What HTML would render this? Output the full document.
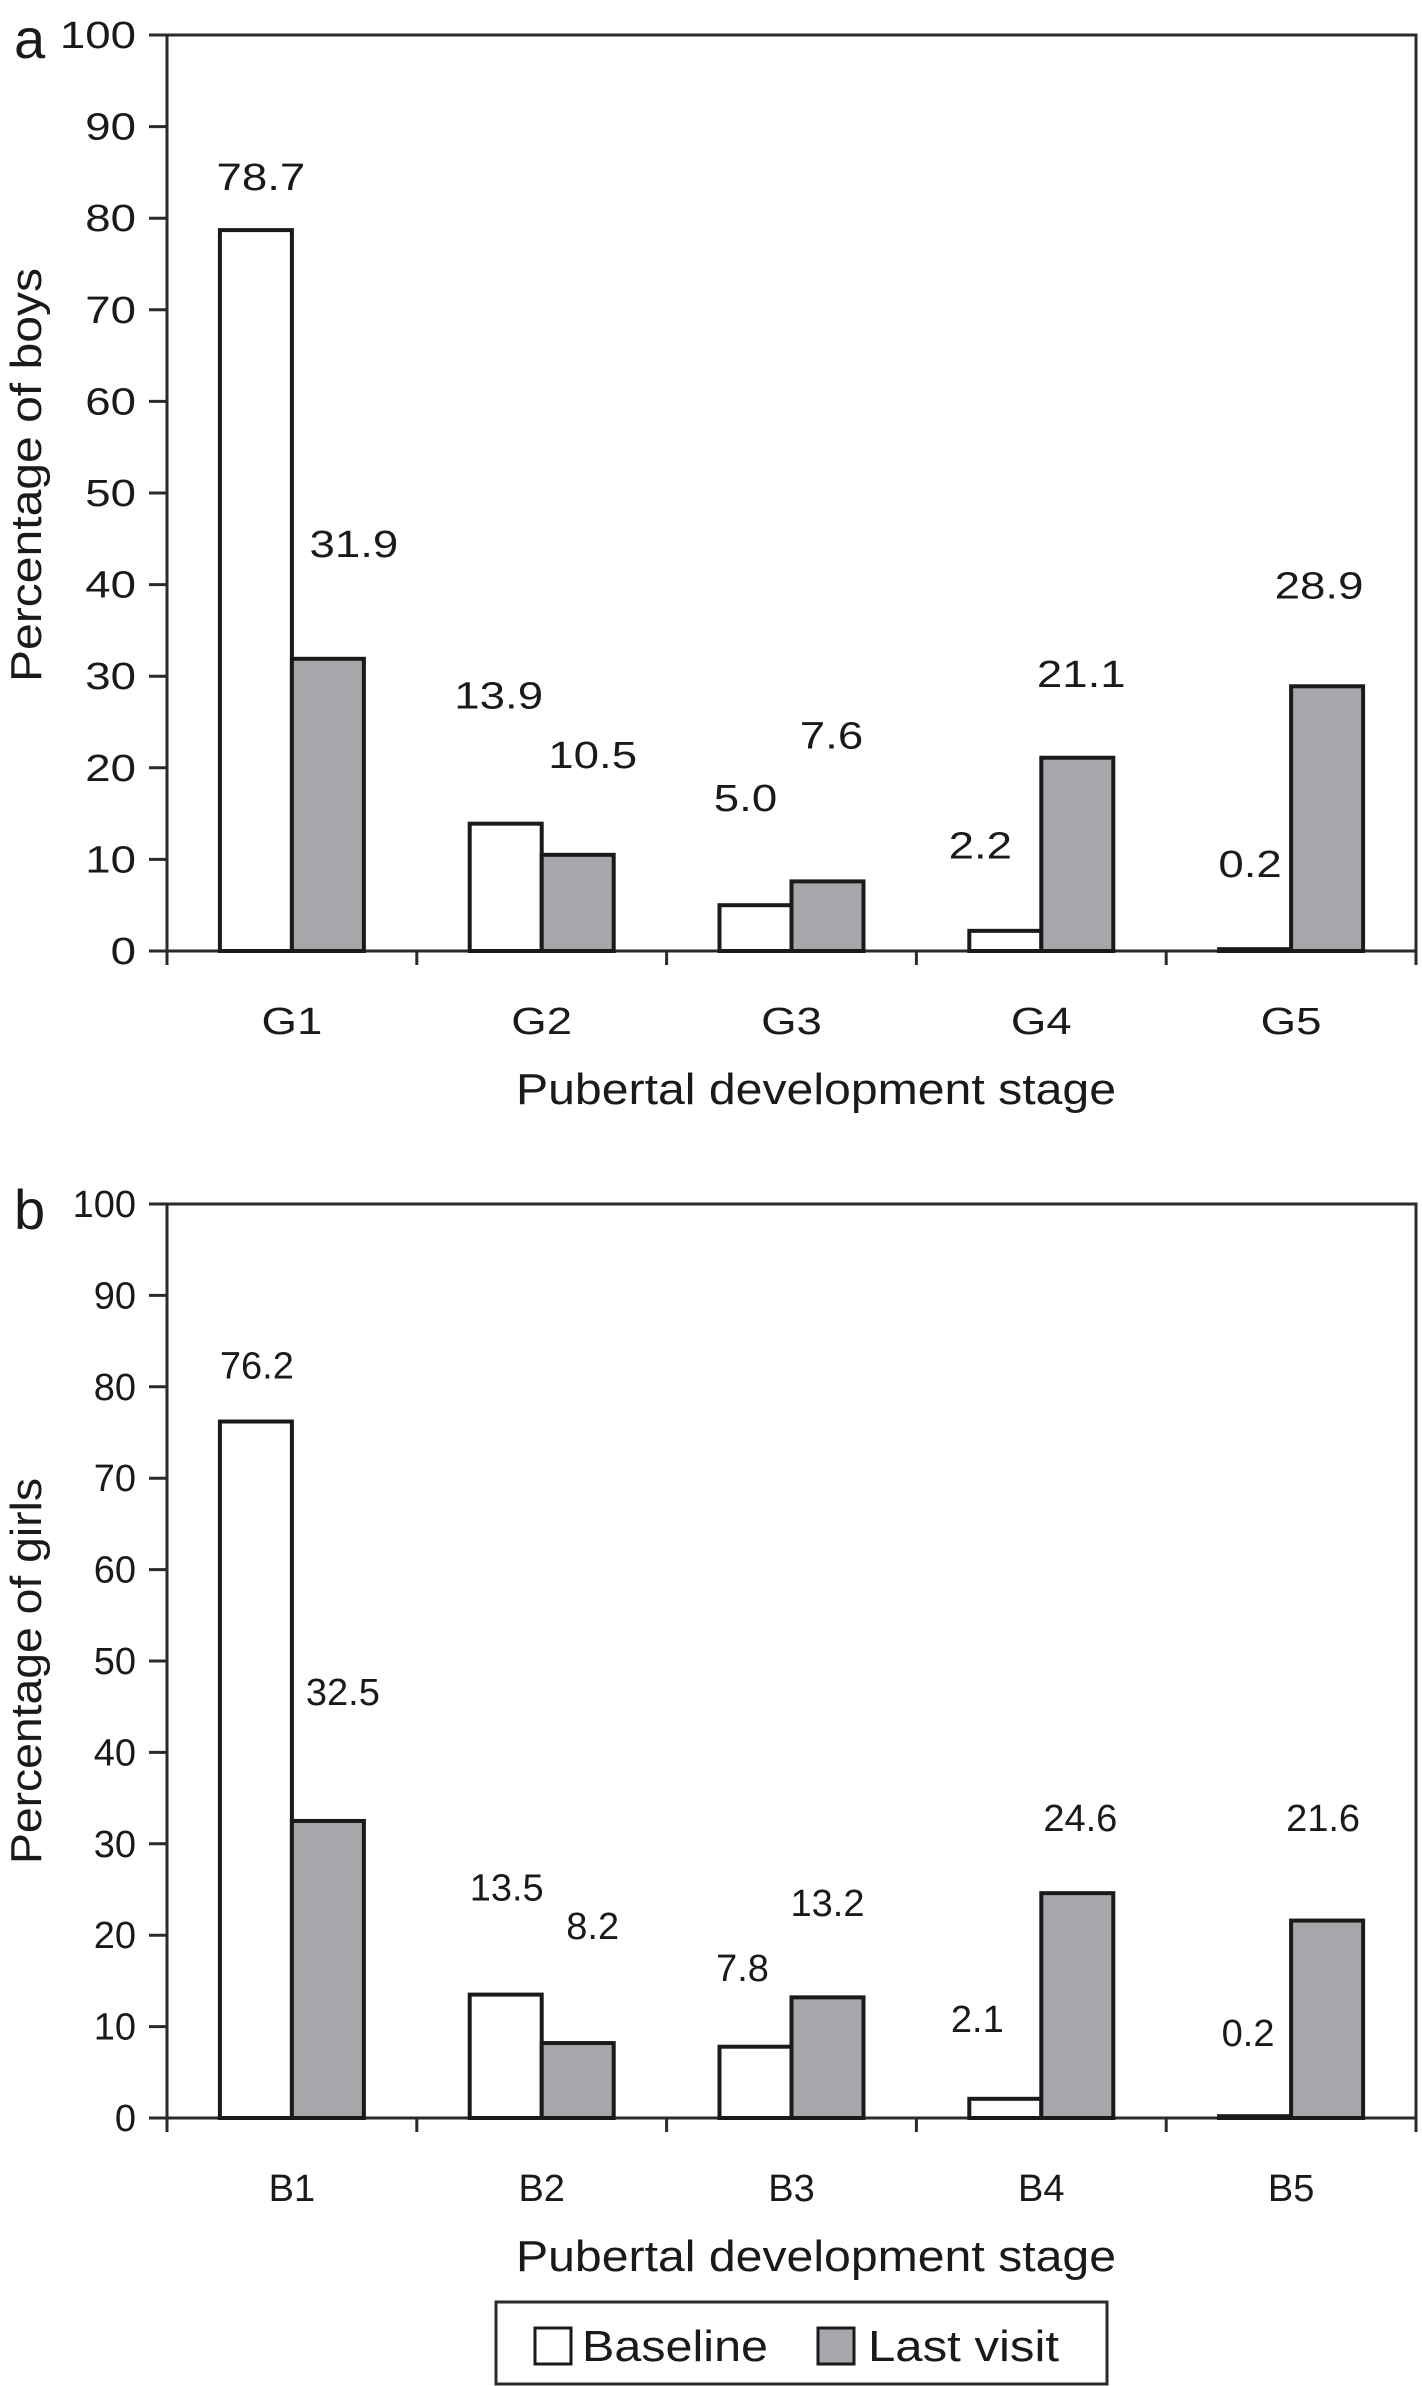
<!DOCTYPE html>
<html><head><meta charset="utf-8"><style>
html,body{margin:0;padding:0;background:#fff;}
svg{display:block;}
text{font-family:"Liberation Sans",sans-serif;fill:#1a1a1a;}
</style></head><body>
<svg id="fig" width="1422" height="2386" viewBox="0 0 1422 2386" xmlns="http://www.w3.org/2000/svg"></svg>
<script>
const categoriesA = ["G1","G2","G3","G4","G5"];
const baselineA = [78.7, 13.9, 5.0, 2.2, 0.2];
const lastVisitA = [31.9, 10.5, 7.6, 21.1, 28.9];
const baseLabelPosA = [83.1, 26.5, 15.3, 10.1, 8.1];
const lastLabelPosA = [43.0, 20.0, 22.1, 28.8, 38.5];

const categoriesB = ["B1","B2","B3","B4","B5"];
const baselineB = [76.2, 13.5, 7.8, 2.1, 0.2];
const lastVisitB = [32.5, 8.2, 13.2, 24.6, 21.6];
const baseLabelPosB = [80.9, 23.8, 15.0, 9.4, 7.9];
const lastLabelPosB = [45.2, 19.6, 22.1, 31.4, 31.4];

const yTicks = [0,10,20,30,40,50,60,70,80,90,100];

const svg = document.getElementById('fig');
const NS = 'http://www.w3.org/2000/svg';
function mk(tag, attrs, parent){
  const e = document.createElementNS(NS, tag);
  for (const k in attrs) e.setAttribute(k, attrs[k]);
  (parent||svg).appendChild(e);
  return e;
}
function stretch(t, f){
  if (f === 1) return;
  const w = t.getComputedTextLength();
  if (w > 0) { t.setAttribute('textLength', (w*f).toFixed(1)); t.setAttribute('lengthAdjust','spacingAndGlyphs'); }
}

function drawChart(o){
  const g = mk('g', {});
  
  
  const x0 = 167, x1 = 1416;
  const yScale = v => o.yBottom - (o.yBottom - o.yTop) * v / 100;
  const n = o.cats.length;
  const gw = (x1 - x0) / n;
  const bw = 72;
  const frame = mk('rect', {x:x0, y:o.yTop, width:x1-x0, height:o.yBottom-o.yTop, fill:'none', stroke:'#2a2a2a', 'stroke-width':3}, g);
  
  
  yTicks.forEach(t => {
    const y = yScale(t);
    const tk = mk('line', {x1:x0-18, x2:x0, y1:y, y2:y, stroke:'#2a2a2a', 'stroke-width':3}, g);
    
    
    const lb = mk('text', {x:x0-31, y:y+13, 'text-anchor':'end', 'font-size':o.tickFont}, g);
    lb.textContent = String(t);
    
    
    stretch(lb, o.stretch);
  });
  for (let i = 0; i <= n; i++) {
    const x = x0 + gw * i;
    const tk = mk('line', {x1:x, x2:x, y1:o.yBottom, y2:o.yBottom+14, stroke:'#2a2a2a', 'stroke-width':3}, g);
    
    
  }
  o.cats.forEach((c, i) => {
    const cx = x0 + gw * (i + 0.5);
    const yb = yScale(o.base[i]), yl = yScale(o.last[i]);
    const b1 = mk('rect', {x:cx-bw, y:yb, width:bw, height:o.yBottom-yb, fill:'#fff', stroke:'#1a1a1a', 'stroke-width':4}, g);
    
    
    const b2 = mk('rect', {x:cx, y:yl, width:bw, height:o.yBottom-yl, fill:'#a5a7aa', stroke:'#1a1a1a', 'stroke-width':4}, g);
    
    
    const l1 = mk('text', {x:cx-bw/2+o.dxBase[i], y:yScale(o.baseLab[i]), 'text-anchor':'middle', 'font-size':o.valFont}, g);
    l1.textContent = o.base[i].toFixed(1);
    
    
    stretch(l1, o.stretch);
    const l2 = mk('text', {x:cx+bw/2+o.dxLast[i], y:yScale(o.lastLab[i]), 'text-anchor':'middle', 'font-size':o.valFont}, g);
    l2.textContent = o.last[i].toFixed(1);
    
    
    stretch(l2, o.stretch);
    const cl = mk('text', {x:cx, y:o.yBottom+83, 'text-anchor':'middle', 'font-size':o.tickFont}, g);
    cl.textContent = c;
    
    
    stretch(cl, o.stretch);
  });
  const xt = mk('text', {x:816, y:o.yBottom+153, 'text-anchor':'middle', 'font-size':44, textLength:600, lengthAdjust:'spacingAndGlyphs'}, g);
  xt.textContent = 'Pubertal development stage';
  
  
  const ymid = (o.titleTop + o.titleBot) / 2;
  const yt = mk('text', {x:0, y:0, 'text-anchor':'middle', 'font-size':44, textLength:o.titleBot-o.titleTop, lengthAdjust:'spacingAndGlyphs', transform:'translate(41,'+ymid+') rotate(-90)'}, g);
  yt.textContent = o.yTitle;
  
  
  const pl = mk('text', {x:14, y:o.panelY, 'font-size':56}, g);
  pl.textContent = o.panel;
  
  
}

drawChart({name:'chart-boys', cats:categoriesA, base:baselineA, last:lastVisitA, baseLab:baseLabelPosA, lastLab:lastLabelPosA,
  dxBase:[5,-7,-10,-25,-5], dxLast:[26,15,4,4,-8], stretch:1.2,
  yTop:35, yBottom:951, tickFont:38, valFont:38, yTitle:'Percentage of boys', titleTop:268, titleBot:682, panel:'a', panelY:58});
drawChart({name:'chart-girls', cats:categoriesB, base:baselineB, last:lastVisitB, baseLab:baseLabelPosB, lastLab:lastLabelPosB,
  dxBase:[1,1,-13,-28,-7], dxLast:[15,15,0,3,-4], stretch:1,
  yTop:1204, yBottom:2118, tickFont:38, valFont:38, yTitle:'Percentage of girls', titleTop:1478, titleBot:1864, panel:'b', panelY:1229});

const lg = mk('g', {});


const box = mk('rect', {x:496, y:2302, width:611, height:82, fill:'#fff', stroke:'#2a2a2a', 'stroke-width':3}, lg);


const s1 = mk('rect', {x:535, y:2328, width:36, height:36, fill:'#fff', stroke:'#1a1a1a', 'stroke-width':3}, lg);


const t1 = mk('text', {x:582, y:2361, 'font-size':44, textLength:186, lengthAdjust:'spacingAndGlyphs'}, lg);
t1.textContent = 'Baseline';


const s2 = mk('rect', {x:818, y:2328, width:36, height:36, fill:'#a5a7aa', stroke:'#1a1a1a', 'stroke-width':3}, lg);


const t2 = mk('text', {x:868, y:2361, 'font-size':44, textLength:191, lengthAdjust:'spacingAndGlyphs'}, lg);
t2.textContent = 'Last visit';


</script>
</body></html>
